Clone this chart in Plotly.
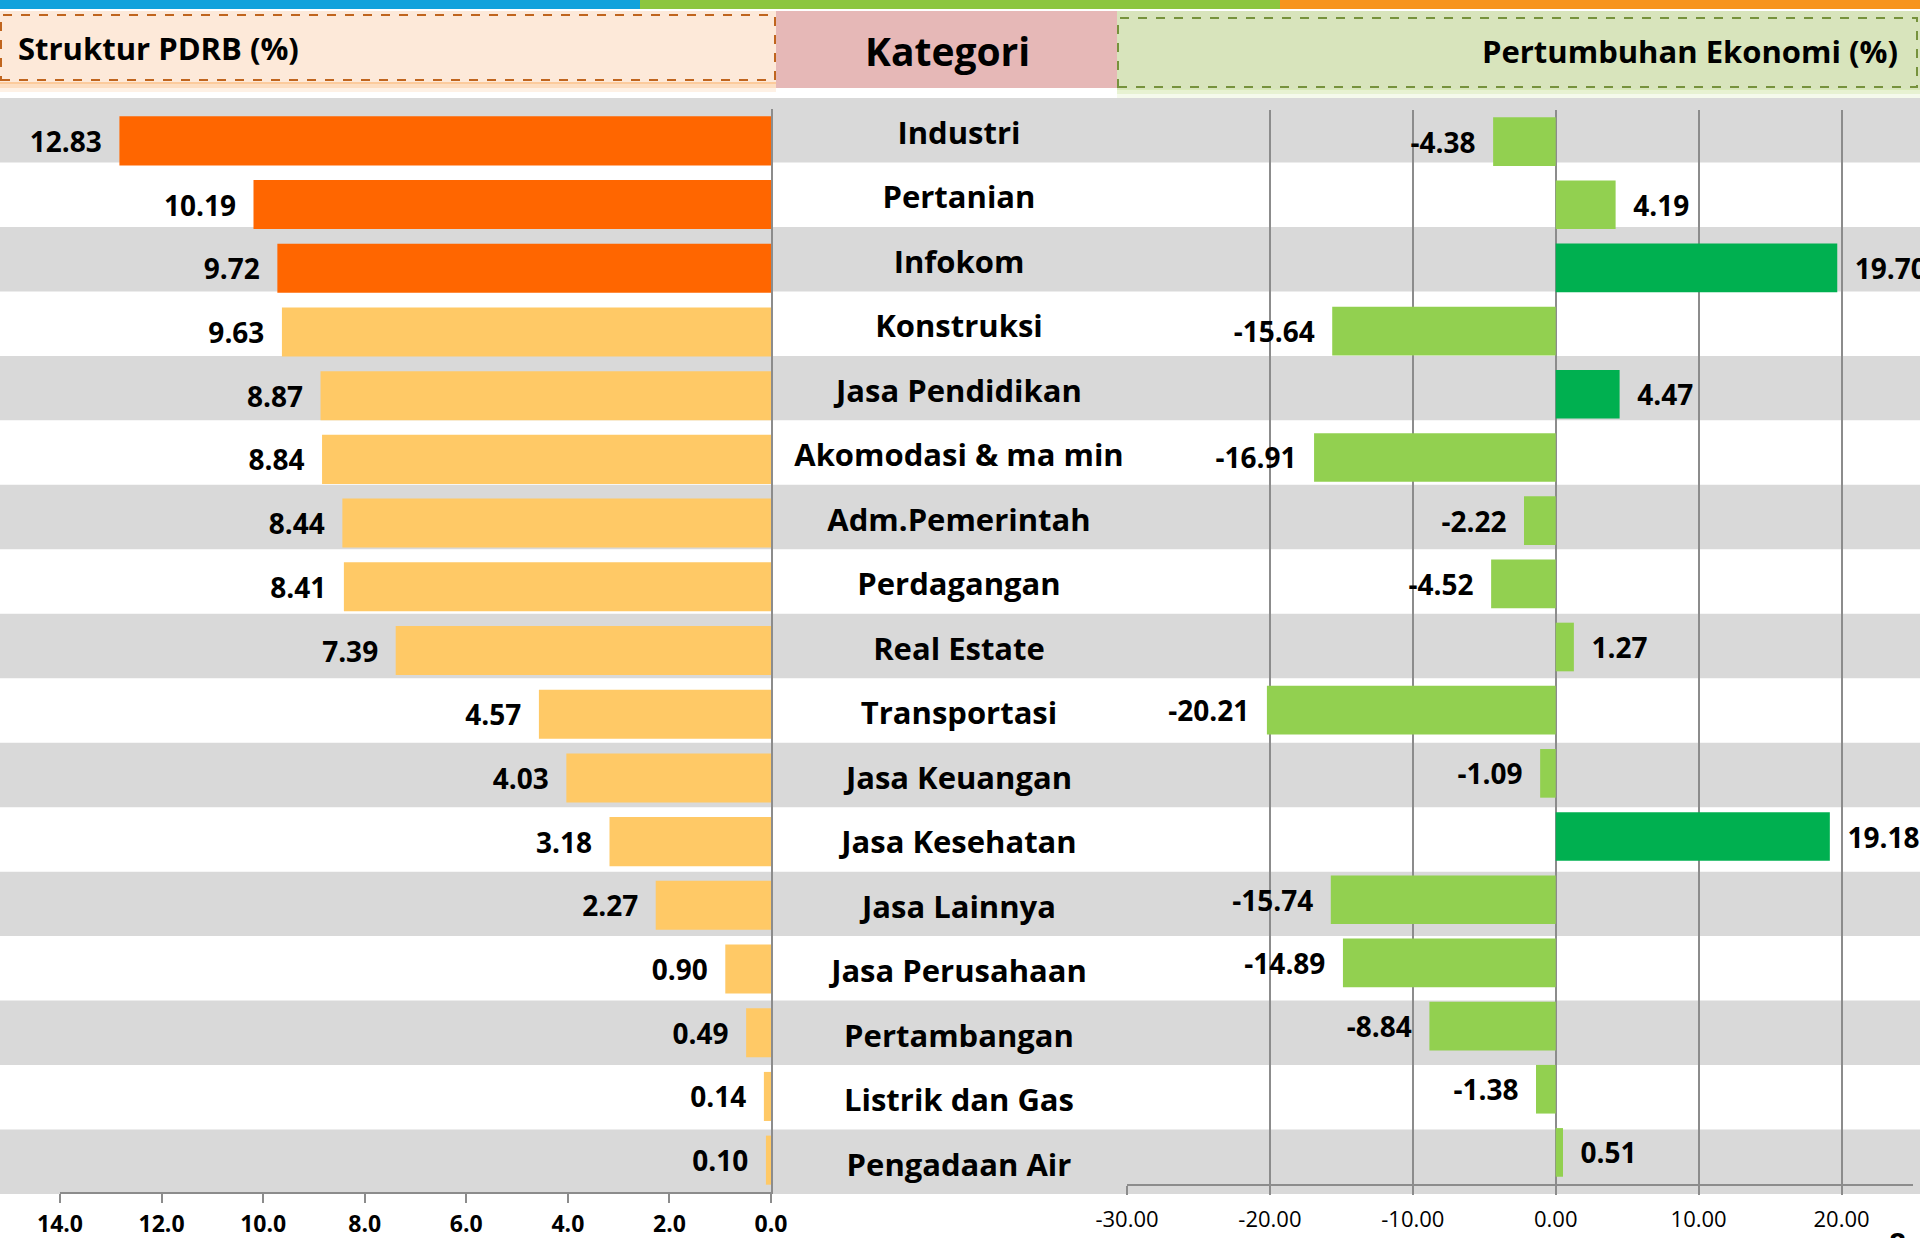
import plotly.graph_objects as go

# ---------------- data ----------------
categories = ["Industri", "Pertanian", "Infokom", "Konstruksi", "Jasa Pendidikan",
              "Akomodasi & ma min", "Adm.Pemerintah", "Perdagangan", "Real Estate",
              "Transportasi", "Jasa Keuangan", "Jasa Kesehatan", "Jasa Lainnya",
              "Jasa Perusahaan", "Pertambangan", "Listrik dan Gas", "Pengadaan Air"]
struktur_pdrb = [12.83, 10.19, 9.72, 9.63, 8.87, 8.84, 8.44, 8.41, 7.39,
                 4.57, 4.03, 3.18, 2.27, 0.90, 0.49, 0.14, 0.10]
pertumbuhan = [-4.38, 4.19, 19.70, -15.64, 4.47, -16.91, -2.22, -4.52, 1.27,
               -20.21, -1.09, 19.18, -15.74, -14.89, -8.84, -1.38, 0.51]
left_tick_vals = [14, 12, 10, 8, 6, 4, 2, 0]
right_tick_vals = [-30, -20, -10, 0, 10, 20]

title_left = "Struktur PDRB (%)"
title_mid = "Kategori"
title_right = "Pertumbuhan Ekonomi (%)"
page_no = "8"

# ---------------- styling ----------------
W, H = 1920, 1238
FONT = "Open Sans, Lato, sans-serif"
GRID = "#8c8c8c"
BAND = "#d9d9d9"
N = len(categories)
CAT_RANGE = [N - 0.5, -0.5]   # reversed: first category on top


def px(x):
    return x / W


def py(y):
    return 1 - y / H


top3_left = sorted(range(N), key=lambda i: -struktur_pdrb[i])[:3]
top3_right = sorted(range(N), key=lambda i: -pertumbuhan[i])[:3]
left_colors = ["#ff6600" if i in top3_left else "#ffc966" for i in range(N)]
right_colors = ["#00b050" if i in top3_right else "#92d050" for i in range(N)]

NB = "\u00a0\u00a0"
left_text = [f"<b>{v:.2f}</b>{NB}" for v in struktur_pdrb]
right_text = [(f"<b>{v:.2f}</b>{NB}") if v < 0 else (f"{NB}<b>{v:.2f}</b>") for v in pertumbuhan]

fig = go.Figure()

fig.add_trace(go.Bar(
    y=categories, x=struktur_pdrb, orientation="h",
    marker=dict(color=left_colors, line=dict(width=0)),
    width=0.77, text=left_text, texttemplate="%{text}", textposition="outside",
    textfont=dict(family=FONT, size=28, color="black"),
    constraintext="none", cliponaxis=False,
    xaxis="x", yaxis="y", showlegend=False, hoverinfo="skip"))

fig.add_trace(go.Bar(
    y=categories, x=pertumbuhan, orientation="h",
    marker=dict(color=right_colors, line=dict(width=0)),
    width=0.77, text=right_text, texttemplate="%{text}", textposition="outside",
    textfont=dict(family=FONT, size=28, color="black"),
    constraintext="none", cliponaxis=False,
    xaxis="x2", yaxis="y2", showlegend=False, hoverinfo="skip"))

# category names in the middle column
fig.add_trace(go.Scatter(
    y=categories, x=[0] * N, mode="text", text=categories,
    textposition="middle center",
    textfont=dict(family=FONT, size=31, color="black", weight=700),
    xaxis="x3", yaxis="y4", showlegend=False, hoverinfo="skip", cliponaxis=False))

shapes = []
# top coloured stripe
for x0, x1, c in [(0, 640, "#12a2dc"), (640, 1280, "#8cc63f"), (1280, 1920, "#f7941d")]:
    shapes.append(dict(type="rect", xref="paper", yref="paper", x0=px(x0), x1=px(x1),
                       y0=py(9), y1=py(0), fillcolor=c, line=dict(width=0), layer="below"))

# alternating row bands (aligned to the category axis y3)
for i in range(N):
    if i % 2 == 0:
        shapes.append(dict(type="rect", xref="paper", yref="y3", x0=0, x1=1,
                           y0=i - 0.5, y1=i + 0.5, fillcolor=BAND,
                           line=dict(width=0), layer="below"))

# header boxes
for k, a in enumerate([0.18, 0.3, 0.45]):
    shapes.append(dict(type="rect", xref="paper", yref="paper", x0=px(0), x1=px(776),
                       y0=py(92 - 4 * k), y1=py(80), fillcolor=f"rgba(251,180,110,{a})",
                       line=dict(width=0), layer="below"))
shapes.append(dict(type="rect", xref="paper", yref="paper", x0=px(0), x1=px(776),
                   y0=py(82), y1=py(11), fillcolor="#fde9d9", line=dict(width=0), layer="below"))
shapes.append(dict(type="rect", xref="paper", yref="paper", x0=px(1), x1=px(775),
                   y0=py(80), y1=py(15), fillcolor="rgba(0,0,0,0)",
                   line=dict(width=2, color="#c0651e", dash="dash"), layer="below"))
shapes.append(dict(type="rect", xref="paper", yref="paper", x0=px(776), x1=px(1117),
                   y0=py(88), y1=py(11), fillcolor="#e6b8b7", line=dict(width=0), layer="below"))
for k, a in enumerate([0.18, 0.3, 0.45]):
    shapes.append(dict(type="rect", xref="paper", yref="paper", x0=px(1117), x1=px(1920),
                       y0=py(98 - 4 * k), y1=py(87), fillcolor=f"rgba(200,225,150,{a})",
                       line=dict(width=0), layer="below"))
shapes.append(dict(type="rect", xref="paper", yref="paper", x0=px(1117), x1=px(1920),
                   y0=py(89), y1=py(11), fillcolor="#d8e4bc", line=dict(width=0), layer="below"))
shapes.append(dict(type="rect", xref="paper", yref="paper", x0=px(1118), x1=px(1917),
                   y0=py(87), y1=py(18), fillcolor="rgba(0,0,0,0)",
                   line=dict(width=2, color="#76923c", dash="dash"), layer="below"))

annotations = [
    dict(text=f"<b>{title_left}</b>", xref="paper", yref="paper", x=px(16), y=py(48),
         xanchor="left", yanchor="middle", showarrow=False,
         font=dict(family=FONT, size=31, color="black")),
    dict(text=f"<b>{title_mid}</b>", xref="paper", yref="paper", x=px(947), y=py(51),
         xanchor="center", yanchor="middle", showarrow=False,
         font=dict(family=FONT, size=39, color="black")),
    dict(text=f"<b>{title_right}</b>", xref="paper", yref="paper", x=px(1900), y=py(51),
         xanchor="right", yanchor="middle", showarrow=False,
         font=dict(family=FONT, size=31, color="black")),
    dict(text=f"<b>{page_no}</b>", xref="paper", yref="paper", x=px(1897), y=py(1221),
         xanchor="center", yanchor="top", showarrow=False,
         font=dict(family=FONT, size=30, color="black")),
]

fig.update_layout(
    width=W, height=H, margin=dict(l=0, r=0, t=0, b=0, pad=0, autoexpand=False),
    paper_bgcolor="white", plot_bgcolor="rgba(0,0,0,0)",
    barmode="overlay", shapes=shapes, annotations=annotations,
    xaxis=dict(domain=[px(60), px(771)], range=[14, 0], tickvals=left_tick_vals,
               ticktext=[f"{v:.1f}" for v in left_tick_vals],
               ticks="outside", ticklen=9, tickcolor=GRID, tickwidth=1.5,
               showline=True, linecolor=GRID, linewidth=1.5, showgrid=False, zeroline=False,
               tickfont=dict(family=FONT, size=23, color="black", weight=700),
               ticklabelstandoff=2, anchor="y", automargin=False),
    yaxis=dict(domain=[py(1192), py(109)], range=CAT_RANGE, showticklabels=False,
               showline=True, side="right", linecolor=GRID, linewidth=1.5, ticks="",
               showgrid=False, zeroline=False, anchor="x", type="category", automargin=False),
    xaxis2=dict(domain=[px(1127), px(1913)], range=[-30, 25], tickvals=right_tick_vals,
                ticktext=[f"{v:.2f}" for v in right_tick_vals],
                ticks="outside", ticklen=9, tickcolor=GRID, tickwidth=1.5,
                showline=True, linecolor=GRID, linewidth=1.5, showgrid=True, gridcolor=GRID,
                gridwidth=1.5, zeroline=True, zerolinecolor=GRID, zerolinewidth=1.5,
                tickfont=dict(family=FONT, size=22, color="black"),
                ticklabelstandoff=6, anchor="y2", automargin=False),
    yaxis2=dict(domain=[py(1184), py(110)], range=CAT_RANGE, showticklabels=False,
                showline=False, showgrid=False, zeroline=False, anchor="x2", type="category",
                automargin=False),
    xaxis3=dict(domain=[px(801), px(1117)], range=[-1, 1], visible=False, anchor="y3",
                automargin=False),
    yaxis3=dict(domain=[py(1194), py(98)], range=CAT_RANGE, visible=False,
                anchor="x3", type="category", automargin=False),
    yaxis4=dict(domain=[py(1200), py(104)], range=CAT_RANGE, visible=False,
                anchor="x3", type="category", automargin=False),
)

fig.write_html("out.html", config={"displayModeBar": False},
               post_script="document.body.style.margin='0';document.body.style.overflow='hidden';")
